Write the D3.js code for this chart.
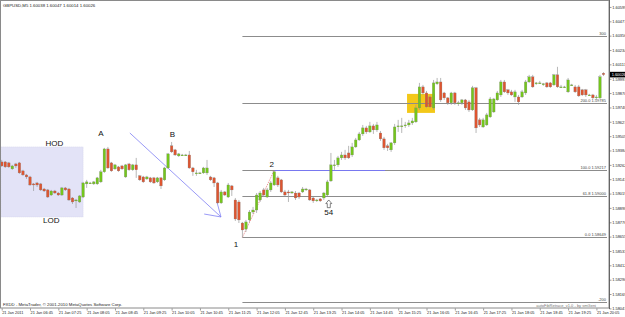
<!DOCTYPE html>
<html>
<head>
<meta charset="UTF-8">
<style>
  body { margin: 0; background: #fff; }
  svg { display: block; font-family: "Liberation Sans", Arial, sans-serif; }
  .axis text { font-size: 3.9px; fill: #222; font-family: "Liberation Sans", Arial, sans-serif; }
  .axis line { stroke: #555; stroke-width: 0.6; }
  .fib-label { font-size: 4px; fill: #444; text-anchor: end; }
  .note { font-size: 8px; fill: #111; text-anchor: middle; }
  .small { font-size: 4.3px; fill: #222; }
</style>
</head>
<body>
<svg id="chart" width="625" height="317"></svg>
<script src="https://d3js.org/d3.v7.min.js"></script>
<script>
// time labels on the bottom, one every 8 bars (M5)
const timeLabels = ["21 Jan 2011", "21 Jan 06:45", "21 Jan 07:25", "21 Jan 08:05", "21 Jan 08:45",
  "21 Jan 09:25", "21 Jan 10:05", "21 Jan 10:45", "21 Jan 11:25", "21 Jan 12:05", "21 Jan 12:45",
  "21 Jan 13:25", "21 Jan 14:05", "21 Jan 14:45", "21 Jan 15:25", "21 Jan 16:05", "21 Jan 16:45",
  "21 Jan 17:25", "21 Jan 18:05", "21 Jan 18:45", "21 Jan 19:25", "21 Jan 20:05"];

const priceTicks = [1.60599, 1.60477, 1.60356, 1.60234, 1.60113, 1.59991, 1.59870, 1.59748,
  1.59627, 1.59505, 1.59384, 1.59262, 1.59141, 1.59019, 1.58898, 1.58776, 1.58655, 1.58533,
  1.58412, 1.58290, 1.58169, 1.58047];

// GBPUSD M5 candles
const opens = [
  1.59287, 1.59287, 1.59279, 1.59228, 1.59270, 1.59279, 1.59211, 1.59177, 1.59160, 1.59101,
  1.59109, 1.59101, 1.59058, 1.59050, 1.59007, 1.59041, 1.59024, 1.59007, 1.59067, 1.59058,
  1.58982, 1.58957, 1.58948, 1.58990, 1.59101, 1.59109, 1.59101, 1.59101, 1.59118, 1.59203,
  1.59397, 1.59279, 1.59228, 1.59245, 1.59253, 1.59160, 1.59270, 1.59220, 1.59262, 1.59169,
  1.59160, 1.59143, 1.59152, 1.59152, 1.59118, 1.59152, 1.59135, 1.59236, 1.59423, 1.59389,
  1.59338, 1.59346, 1.59346, 1.59346, 1.59236, 1.59194, 1.59194, 1.59194, 1.59194, 1.59160,
  1.59152, 1.59109, 1.58940, 1.59033, 1.58990, 1.59084, 1.58965, 1.58948, 1.58770, 1.58719,
  1.58796, 1.58863, 1.58880, 1.58965, 1.59050, 1.58990, 1.59050, 1.59092, 1.59152, 1.59135,
  1.59033, 1.59033, 1.59024, 1.59024, 1.59024, 1.59033, 1.59050, 1.59050, 1.58982, 1.58965,
  1.58974, 1.58982, 1.59007, 1.59126, 1.59262, 1.59262, 1.59321, 1.59346, 1.59363, 1.59346,
  1.59414, 1.59473, 1.59524, 1.59575, 1.59541, 1.59592, 1.59558, 1.59532, 1.59482, 1.59423,
  1.59389, 1.59448, 1.59592, 1.59592, 1.59600, 1.59600, 1.59617, 1.59626, 1.59744, 1.59922,
  1.59871, 1.59837, 1.59744, 1.59948, 1.59964, 1.59871, 1.59829, 1.59787, 1.59871, 1.59787,
  1.59787, 1.59812, 1.59795, 1.59727, 1.59914, 1.59643, 1.59583, 1.59600, 1.59668, 1.59710,
  1.59812, 1.59854, 1.59964, 1.59897, 1.59880, 1.59837, 1.59837, 1.59837, 1.59871, 1.59964,
  1.60007, 1.59956, 1.59956, 1.59948, 1.59956, 1.59956, 1.59939, 1.60024, 1.59922, 1.59922,
  1.59880, 1.59939, 1.59922, 1.59922, 1.59897, 1.59897, 1.59854, 1.59854, 1.59837, 1.59829,
  1.60038];
const highs = [
  1.59304, 1.59295, 1.59287, 1.59262, 1.59279, 1.59287, 1.59220, 1.59186, 1.59169, 1.59109,
  1.59118, 1.59109, 1.59067, 1.59058, 1.59050, 1.59050, 1.59033, 1.59075, 1.59075, 1.59067,
  1.58990, 1.58974, 1.59007, 1.59118, 1.59135, 1.59118, 1.59126, 1.59160, 1.59220, 1.59406,
  1.59414, 1.59287, 1.59270, 1.59253, 1.59262, 1.59270, 1.59279, 1.59270, 1.59321, 1.59177,
  1.59169, 1.59169, 1.59160, 1.59160, 1.59160, 1.59160, 1.59245, 1.59363, 1.59456, 1.59397,
  1.59363, 1.59355, 1.59355, 1.59380, 1.59245, 1.59220, 1.59203, 1.59245, 1.59304, 1.59169,
  1.59160, 1.59118, 1.59050, 1.59041, 1.59109, 1.59092, 1.58982, 1.58965, 1.58779, 1.58796,
  1.58880, 1.58906, 1.59024, 1.59041, 1.59067, 1.59067, 1.59126, 1.59217, 1.59169, 1.59143,
  1.59050, 1.59050, 1.59041, 1.59041, 1.59033, 1.59075, 1.59067, 1.59058, 1.58990, 1.58974,
  1.58982, 1.59033, 1.59135, 1.59363, 1.59304, 1.59338, 1.59372, 1.59389, 1.59423, 1.59448,
  1.59490, 1.59541, 1.59600, 1.59592, 1.59626, 1.59609, 1.59626, 1.59549, 1.59499, 1.59440,
  1.59456, 1.59609, 1.59643, 1.59660, 1.59626, 1.59643, 1.59660, 1.59770, 1.59956, 1.59939,
  1.59888, 1.59854, 1.59981, 1.59998, 1.59998, 1.59880, 1.59837, 1.59880, 1.59880, 1.59804,
  1.59820, 1.59820, 1.59812, 1.59931, 1.59922, 1.59660, 1.59660, 1.59702, 1.59837, 1.59829,
  1.59888, 1.59981, 1.59981, 1.59905, 1.59897, 1.59897, 1.59854, 1.59897, 1.59981, 1.60024,
  1.60024, 1.59964, 1.59973, 1.59956, 1.59964, 1.59964, 1.60032, 1.60092, 1.59939, 1.59931,
  1.59998, 1.59948, 1.59939, 1.59939, 1.59905, 1.59905, 1.59863, 1.59863, 1.59854, 1.60024,
  1.60047];
const lows = [
  1.59245, 1.59236, 1.59236, 1.59220, 1.59236, 1.59186, 1.59169, 1.59143, 1.59084, 1.59041,
  1.59075, 1.59041, 1.59033, 1.58982, 1.58999, 1.59016, 1.58999, 1.58999, 1.59041, 1.58957,
  1.58931, 1.58897, 1.58940, 1.58982, 1.59067, 1.59101, 1.59092, 1.59092, 1.59109, 1.59194,
  1.59228, 1.59203, 1.59220, 1.59203, 1.59220, 1.59152, 1.59211, 1.59211, 1.59152, 1.59126,
  1.59109, 1.59135, 1.59109, 1.59101, 1.59109, 1.59058, 1.59126, 1.59228, 1.59363, 1.59338,
  1.59329, 1.59338, 1.59338, 1.59228, 1.59169, 1.59169, 1.59186, 1.59186, 1.59177, 1.59126,
  1.59075, 1.58931, 1.58931, 1.58999, 1.58982, 1.58999, 1.58787, 1.58770, 1.58649, 1.58694,
  1.58779, 1.58846, 1.58855, 1.58948, 1.58990, 1.58982, 1.59033, 1.59084, 1.59075, 1.59024,
  1.58999, 1.58948, 1.59016, 1.58965, 1.58974, 1.59024, 1.59041, 1.58957, 1.58940, 1.58948,
  1.58948, 1.58965, 1.58999, 1.59118, 1.59220, 1.59245, 1.59304, 1.59304, 1.59312, 1.59329,
  1.59406, 1.59465, 1.59507, 1.59524, 1.59532, 1.59524, 1.59541, 1.59465, 1.59389, 1.59380,
  1.59372, 1.59431, 1.59541, 1.59532, 1.59575, 1.59583, 1.59600, 1.59617, 1.59727, 1.59854,
  1.59744, 1.59744, 1.59727, 1.59939, 1.59795, 1.59812, 1.59770, 1.59770, 1.59770, 1.59761,
  1.59770, 1.59727, 1.59710, 1.59719, 1.59532, 1.59583, 1.59575, 1.59592, 1.59660, 1.59702,
  1.59804, 1.59837, 1.59871, 1.59854, 1.59846, 1.59795, 1.59770, 1.59829, 1.59854, 1.59956,
  1.59914, 1.59939, 1.59948, 1.59931, 1.59914, 1.59914, 1.59931, 1.59914, 1.59914, 1.59914,
  1.59871, 1.59931, 1.59871, 1.59837, 1.59846, 1.59837, 1.59846, 1.59820, 1.59812, 1.59820,
  1.60014];
const closes = [
  1.59253, 1.59245, 1.59245, 1.59253, 1.59253, 1.59194, 1.59177, 1.59160, 1.59092, 1.59092,
  1.59092, 1.59050, 1.59041, 1.58990, 1.59041, 1.59024, 1.59007, 1.59067, 1.59050, 1.58965,
  1.58948, 1.58965, 1.58999, 1.59109, 1.59118, 1.59109, 1.59118, 1.59152, 1.59203, 1.59397,
  1.59236, 1.59211, 1.59262, 1.59211, 1.59228, 1.59262, 1.59220, 1.59262, 1.59220, 1.59135,
  1.59118, 1.59160, 1.59118, 1.59109, 1.59152, 1.59084, 1.59236, 1.59355, 1.59372, 1.59346,
  1.59355, 1.59346, 1.59346, 1.59236, 1.59203, 1.59194, 1.59194, 1.59236, 1.59236, 1.59135,
  1.59109, 1.58940, 1.59033, 1.59007, 1.59092, 1.59050, 1.58804, 1.58796, 1.58711, 1.58779,
  1.58863, 1.58880, 1.59007, 1.59024, 1.59007, 1.59050, 1.59109, 1.59203, 1.59092, 1.59033,
  1.59007, 1.59024, 1.59033, 1.58982, 1.58990, 1.59058, 1.59058, 1.58965, 1.58957, 1.58965,
  1.58957, 1.59024, 1.59118, 1.59262, 1.59262, 1.59321, 1.59346, 1.59321, 1.59321, 1.59414,
  1.59473, 1.59524, 1.59575, 1.59541, 1.59592, 1.59558, 1.59600, 1.59482, 1.59406, 1.59406,
  1.59448, 1.59583, 1.59592, 1.59592, 1.59600, 1.59617, 1.59634, 1.59744, 1.59922, 1.59871,
  1.59753, 1.59753, 1.59956, 1.59964, 1.59812, 1.59829, 1.59787, 1.59871, 1.59787, 1.59787,
  1.59812, 1.59744, 1.59727, 1.59914, 1.59575, 1.59600, 1.59643, 1.59685, 1.59820, 1.59820,
  1.59871, 1.59964, 1.59880, 1.59871, 1.59854, 1.59880, 1.59795, 1.59880, 1.59964, 1.60007,
  1.59922, 1.59956, 1.59956, 1.59948, 1.59922, 1.59922, 1.60024, 1.59922, 1.59922, 1.59922,
  1.59981, 1.59939, 1.59880, 1.59846, 1.59854, 1.59854, 1.59854, 1.59829, 1.59837, 1.60007,
  1.60026];

const symbol = "GBPUSD,M5";
const lastPrice = 1.60026;

// fibonacci retracement drawn from the low (bar 68) to the high (bar 77)
const fibLow = 1.58649, fibHigh = 1.59217;
const fibStartBar = 68, fibEndBar = 77;
const fibLevels = [0, 61.8, 100, 200, 300];
const fibTexts = ["0.0 1.58649", "61.8 1.59000", "100.0 1.59217", "200.0 1.59785", "300"];
const lowerLinePrice = 1.58101;

const svg = d3.select("#chart");
const plotRight = 609, plotBottom = 308;

const x = d3.scaleLinear().domain([0, opens.length - 1]).range([1.7, 603.5]);
const y = d3.scaleLinear().domain([fibLow, fibLow + (fibHigh - fibLow) * 3]).range([237.3, 36]);

svg.append("defs").append("clipPath").attr("id", "plot")
  .append("rect").attr("x", 1).attr("y", 1).attr("width", plotRight - 1).attr("height", plotBottom - 1);

// frame
svg.append("rect")
  .attr("x", 0.5).attr("y", 0.5)
  .attr("width", plotRight - 0.5).attr("height", plotBottom - 0.5)
  .attr("fill", "#fff").attr("stroke", "#8a8a8a").attr("stroke-width", 1);

let plot = svg.append("g").attr("clip-path", "url(#plot)");

// HOD / LOD box
plot.append("rect")
  .attr("x", x(-0.3)).attr("y", y(1.59414))
  .attr("width", x(23) - x(-0.3)).attr("height", y(1.58821) - y(1.59414))
  .attr("fill", "#e3e3f7").attr("stroke", "#d2d2ea").attr("stroke-width", 0.6)
  .attr("stroke-dasharray", "1,1");

// yellow highlight
plot.append("rect")
  .attr("x", x(114.5)).attr("y", y(1.59863))
  .attr("width", x(122.4) - x(114.5)).attr("height", y(1.59702) - y(1.59863))
  .attr("fill", "#f2c200").attr("opacity", 0.9);

// fibonacci levels
fibLevels.forEach((lvl, k) => {
  let p = fibLow + (fibHigh - fibLow) * lvl / 100;
  plot.append("line")
    .attr("x1", x(fibStartBar)).attr("x2", 607)
    .attr("y1", Math.round(y(p)) + 0.5).attr("y2", Math.round(y(p)) + 0.5)
    .attr("stroke", "#8c8c8c").attr("stroke-width", 1);
});
plot.append("line")
  .attr("x1", x(fibStartBar)).attr("x2", 607)
  .attr("y1", Math.round(y(lowerLinePrice)) + 0.5).attr("y2", Math.round(y(lowerLinePrice)) + 0.5)
  .attr("stroke", "#8c8c8c").attr("stroke-width", 1);

// blue line at the "2" high
plot.append("line")
  .attr("x1", x(fibEndBar)).attr("x2", x(108.3))
  .attr("y1", Math.round(y(fibHigh)) + 0.5).attr("y2", Math.round(y(fibHigh)) + 0.5)
  .attr("stroke", "#7878f0").attr("stroke-width", 1);

// red dotted fibo base line
plot.append("line")
  .attr("x1", x(fibStartBar)).attr("y1", y(fibLow))
  .attr("x2", x(fibEndBar)).attr("y2", y(fibHigh))
  .attr("stroke", "#e05050").attr("stroke-width", 0.7).attr("stroke-dasharray", "1,1");

// blue arrow from B down to the low
const arrowPts = [[36.2, 1.59532], [61.95, 1.58821]];
plot.append("line")
  .attr("x1", x(arrowPts[0][0])).attr("y1", y(arrowPts[0][1]))
  .attr("x2", x(arrowPts[1][0])).attr("y2", y(arrowPts[1][1]))
  .attr("stroke", "#8080f4").attr("stroke-width", 0.8);
[[57.2, 1.58846], [60.8, 1.58948]].forEach(a => {
  plot.append("line")
    .attr("x1", x(a[0])).attr("y1", y(a[1]))
    .attr("x2", x(arrowPts[1][0])).attr("y2", y(arrowPts[1][1]))
    .attr("stroke", "#8080f4").attr("stroke-width", 0.8);
});

// candles
let candles = d3.range(opens.length).map(i => ({ i, o: opens[i], h: highs[i], l: lows[i], c: closes[i] }));
let upCol = "#74c61c", downCol = "#de5530";

plot.selectAll(".wick").data(candles).enter().append("line")
  .attr("class", "wick")
  .attr("x1", d => x(d.i)).attr("x2", d => x(d.i))
  .attr("y1", d => y(d.h)).attr("y2", d => y(d.l))
  .attr("stroke", "#9a9a9a").attr("stroke-width", 0.7);

plot.selectAll(".body").data(candles).enter().append("rect")
  .attr("class", "body")
  .attr("x", d => x(d.i) - 1.3)
  .attr("width", 2.6)
  .attr("y", d => y(Math.max(d.o, d.c)))
  .attr("height", d => Math.max(0.9, Math.abs(y(d.o) - y(d.c))))
  .attr("fill", d => d.c >= d.o ? upCol : downCol)
  .attr("stroke", "#7a7a7a").attr("stroke-width", 0.25);

// fib labels
fibLevels.forEach((lvl, k) => {
  let p = fibLow + (fibHigh - fibLow) * lvl / 100;
  plot.append("text").attr("class", "fib-label")
    .attr("x", 606).attr("y", Math.round(y(p)) - 0.6)
    .text(fibTexts[k]);
});
plot.append("text").attr("class", "fib-label")
  .attr("x", 606).attr("y", Math.round(y(lowerLinePrice)) - 0.6).text("-200");
plot.append("text").attr("class", "fib-label").style("fill", "#777")
  .attr("x", 596).attr("y", Math.round(y(lowerLinePrice)) + 4.6).text("autoFibRetrace_v1.0 - by smGeni");

// annotations
const notes = [
  ["HOD", 14.9, 1.59423], ["LOD", 14.0, 1.58766], ["A", 28.05, 1.59507], ["B", 48.2, 1.59496],
  ["1", 66.2, 1.58564], ["2", 76.3, 1.59247], ["54", 92.4, 1.58838]
];
notes.forEach(n => {
  svg.append("text").attr("class", "note")
    .attr("x", x(n[1])).attr("y", y(n[2])).text(n[0]);
});

// hollow up-arrow above "54"
let ax = x(92.4), ay = y(1.58965);
svg.append("path")
  .attr("d", `M${ax},${ay} l3,3.6 h-1.5 v4.1 h-3 v-4.1 h-1.5 z`)
  .attr("fill", "#fff").attr("stroke", "#333").attr("stroke-width", 0.6);

// price axis on the right
svg.append("line")
  .attr("x1", plotRight + 0.5).attr("x2", plotRight + 0.5)
  .attr("y1", 0).attr("y2", plotBottom + 1)
  .attr("stroke", "#666").attr("stroke-width", 1);
let yAxis = svg.append("g").attr("class", "axis")
  .attr("transform", "translate(" + (plotRight + 0.5) + ",0)")
  .call(d3.axisRight(y).tickValues(priceTicks).tickSize(2).tickPadding(0.8).tickFormat(d3.format(".5f")));
yAxis.select(".domain").remove();

// current price box
let py = y(lastPrice);
svg.append("rect").attr("x", plotRight + 1).attr("y", py - 2.8).attr("width", 16).attr("height", 5.6).attr("fill", "#000");
svg.append("text").attr("class", "small").style("fill", "#fff").style("font-size", "3.9px")
  .attr("x", plotRight + 2.7).attr("y", py + 1.4).text(d3.format(".5f")(lastPrice));

// time axis
let xAxis = svg.append("g").attr("class", "axis")
  .attr("transform", "translate(0," + (plotBottom + 0.5) + ")")
  .call(d3.axisBottom(x).tickValues(timeLabels.map((t, k) => k * 8)).tickSize(2)
    .tickFormat((d, k) => timeLabels[k]));
xAxis.select(".domain").remove();
xAxis.selectAll("text").attr("text-anchor", "start").attr("x", 0).attr("y", 3).attr("dy", "0.71em");

// header and footer texts
svg.append("text").attr("class", "small").attr("x", 3).attr("y", 6.5)
  .text(symbol + "  " + [opens[opens.length - 1], highs[highs.length - 1], lows[lows.length - 1], closes[closes.length - 1]].map(d3.format(".5f")).join(" "));
svg.append("text").attr("class", "small").attr("x", 3).attr("y", 306)
  .text("FXDD - MetaTrader, \u00a9 2001-2010 MetaQuotes Software Corp.");
</script>
</body>
</html>
